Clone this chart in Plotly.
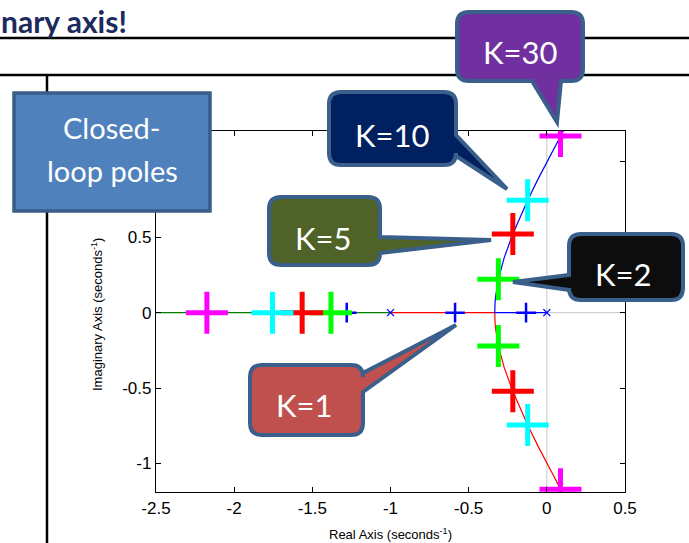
import plotly.graph_objects as go

# ---------------- data ----------------
gains = [1, 2, 5, 10, 30]
gain_colors = ["#0000FF", "#00FF00", "#FF0000", "#00FFFF", "#FF00FF"]
pole_re = [
    [-1.28, -0.587, -0.133],
    [-1.381, -0.310, -0.310],
    [-1.565, -0.2175, -0.2175],
    [-1.755, -0.1226, -0.1226],
    [-2.1745, 0.0873, 0.0873],
]
pole_im = [
    [0, 0, 0],
    [0, 0.221, -0.221],
    [0, 0.522, -0.522],
    [0, 0.745, -0.745],
    [0, 1.171, -1.171],
]
# open-loop poles
ol_re = [0, -1]
ol_im = [0, 0]

# root-locus branches
upper_re = [0, -0.333, -0.3315, -0.3275, -0.310, -0.273, -0.2175, -0.175, -0.1226, -0.0547, 0.0, 0.0465, 0.0873, 0.1239]
upper_im = [0, 0, 0.062, 0.108, 0.221, 0.363, 0.522, 0.627, 0.745, 0.889, 1.0, 1.092, 1.171, 1.242]
lower_re = [-1, -0.333, -0.3315, -0.3275, -0.310, -0.273, -0.2175, -0.175, -0.1226, -0.0547, 0.0, 0.0465, 0.0873, 0.1239]
lower_im = [0, 0, -0.062, -0.108, -0.221, -0.363, -0.522, -0.627, -0.745, -0.889, -1.0, -1.092, -1.171, -1.242]
left_re = [-1, -2.7]
left_im = [0, 0]

x_ticks = [-2.5, -2, -1.5, -1, -0.5, 0, 0.5]
x_tick_text = ["-2.5", "-2", "-1.5", "-1", "-0.5", "0", "0.5"]
y_ticks = [-1, -0.5, 0, 0.5, 1]
y_tick_text = ["-1", "-0.5", "0", "0.5", ""]  # the "1" label is hidden under the box

callout_labels = ["K=30", "K=10", "K=5", "K=2", "K=1"]
callout_fills = ["#7030A0", "#002060", "#4F6228", "#0D0D0D", "#C0504D"]

# ---------------- figure geometry (pixels) ----------------
W, H = 689, 543
L, R, T, B = 156, 625, 131, 492


def px(x):
    return (x - L) / (R - L)


def py(y):
    return (B - y) / (B - T)


fig = go.Figure()

fig.add_trace(go.Scatter(x=left_re, y=left_im, mode="lines",
                         line=dict(color="#008000", width=1.2), hoverinfo="skip"))
fig.add_trace(go.Scatter(x=lower_re, y=lower_im, mode="lines",
                         line=dict(color="#FF0000", width=1.2), hoverinfo="skip"))
fig.add_trace(go.Scatter(x=upper_re, y=upper_im, mode="lines",
                         line=dict(color="#0000FF", width=1.2), hoverinfo="skip"))
fig.add_trace(go.Scatter(x=ol_re, y=ol_im, mode="markers",
                         marker=dict(symbol="x-thin", size=7, color="#0000FF",
                                     line=dict(color="#0000FF", width=1.3))))

for i, k in enumerate(gains):
    big = k != 1
    fig.add_trace(go.Scatter(
        x=pole_re[i], y=pole_im[i], mode="markers",
        marker=dict(symbol="cross-thin", size=30 if big else 14,
                    color=gain_colors[i],
                    line=dict(color=gain_colors[i], width=5 if big else 2.5)),
        hoverinfo="skip"))

shapes = []
# light grey zero lines
shapes.append(dict(type="line", xref="x", yref="paper", x0=0, x1=0, y0=0, y1=1,
                   line=dict(color="#C8C8C8", width=1), layer="below"))
shapes.append(dict(type="line", xref="paper", yref="y", x0=0, x1=1, y0=0, y1=0,
                   line=dict(color="#C8C8C8", width=1), layer="below"))

# slide decoration lines
shapes.append(dict(type="line", xref="paper", yref="paper", x0=px(0), x1=px(W),
                   y0=py(38), y1=py(38), line=dict(color="black", width=2.5)))
shapes.append(dict(type="line", xref="paper", yref="paper", x0=px(0), x1=px(W),
                   y0=py(75), y1=py(75), line=dict(color="black", width=2.5)))
shapes.append(dict(type="line", xref="paper", yref="paper", x0=px(47), x1=px(47),
                   y0=py(75), y1=py(H + 5), line=dict(color="black", width=2.5)))


def P(x, y):
    return f"{px(x):.5f},{py(y):.5f}"


def callout(x0, y0, x1, y1, r, side, a, b, tip):
    tx, ty = tip
    s = [f"M {P(x0 + r, y0)}"]
    if side == "top":
        s += [f"L {P(a, y0)}", f"L {P(tx, ty)}", f"L {P(b, y0)}"]
    s += [f"L {P(x1 - r, y0)}", f"Q {P(x1, y0)} {P(x1, y0 + r)}"]
    if side == "right":
        s += [f"L {P(x1, a)}", f"L {P(tx, ty)}", f"L {P(x1, b)}"]
    s += [f"L {P(x1, y1 - r)}", f"Q {P(x1, y1)} {P(x1 - r, y1)}"]
    if side == "bottom":
        s += [f"L {P(a, y1)}", f"L {P(tx, ty)}", f"L {P(b, y1)}"]
    s += [f"L {P(x0 + r, y1)}", f"Q {P(x0, y1)} {P(x0, y1 - r)}"]
    if side == "left":
        s += [f"L {P(x0, a)}", f"L {P(tx, ty)}", f"L {P(x0, b)}"]
    s += [f"L {P(x0, y0 + r)}", f"Q {P(x0, y0)} {P(x0 + r, y0)}", "Z"]
    return " ".join(s)


border = "#3A5F8B"
geoms = [
    # box, side, base a, base b, tip, text centre
    ((457, 12, 583, 81), "bottom", 561, 532, (557, 122), (520, 50)),
    ((329, 92, 456, 165), "right", 135, 156, (507, 189), (392, 133)),
    ((269, 197, 380, 265), "right", 237, 253, (491, 240), (323, 236)),
    ((569, 234, 683, 300), "left", 290, 275, (513, 282), (623, 272)),
    ((250, 365, 363, 435), "right", 373, 392, (456, 325), (304, 403)),
]

# closed-loop poles box
shapes.append(dict(type="rect", xref="paper", yref="paper",
                   x0=px(14), x1=px(210), y0=py(93), y1=py(211),
                   fillcolor="#4F81BD", line=dict(color="#385D8A", width=3.5),
                   layer="above"))

annotations = []
for (box, side, a, b, tip, tc), lab, fill in zip(geoms, callout_labels, callout_fills):
    x0, y0, x1, y1 = box
    shapes.append(dict(type="path", xref="paper", yref="paper",
                       path=callout(x0, y0, x1, y1, 12, side, a, b, tip),
                       fillcolor=fill, line=dict(color=border, width=4),
                       layer="above"))
    annotations.append(dict(xref="paper", yref="paper", x=px(tc[0]), y=py(tc[1] + 2),
                            text=lab, showarrow=False, xanchor="center", yanchor="middle",
                            font=dict(family="Lato", size=31, color="white")))

annotations.append(dict(xref="paper", yref="paper", x=px(112), y=py(127),
                        text="Closed-", showarrow=False, xanchor="center", yanchor="middle",
                        font=dict(family="Lato", size=29, color="white")))
annotations.append(dict(xref="paper", yref="paper", x=px(112), y=py(170),
                        text="loop poles", showarrow=False, xanchor="center", yanchor="middle",
                        font=dict(family="Lato", size=29, color="white")))

annotations.append(dict(xref="paper", yref="paper", x=px(-1), y=py(21),
                        text="<b>nary axis!</b>", showarrow=False, xanchor="left",
                        yanchor="middle",
                        font=dict(family="Lato", size=30, color="#1C2A5E")))

annotations.append(dict(xref="paper", yref="paper", x=px(97), y=py(315),
                        text="Imaginary Axis (seconds<sup>-1</sup>)", showarrow=False,
                        textangle=-90, xanchor="center", yanchor="middle",
                        font=dict(family="Liberation Sans", size=13, color="black")))
annotations.append(dict(xref="paper", yref="paper", x=px(390), y=py(534),
                        text="Real Axis (seconds<sup>-1</sup>)", showarrow=False,
                        xanchor="center", yanchor="middle",
                        font=dict(family="Liberation Sans", size=13, color="black")))

fig.update_layout(
    width=W, height=H,
    margin=dict(l=L, r=W - R, t=T, b=H - B, autoexpand=False),
    paper_bgcolor="white", plot_bgcolor="white",
    showlegend=False,
    shapes=shapes,
    annotations=annotations,
    xaxis=dict(range=[-2.5, 0.5], tickvals=x_ticks, ticktext=x_tick_text,
               ticks="inside", ticklen=5, tickcolor="black", mirror="ticks",
               showline=True, linecolor="black", linewidth=1.3, showgrid=False,
               zeroline=False, automargin=False,
               tickfont=dict(family="Liberation Sans", size=17, color="black")),
    yaxis=dict(range=[-1.19, 1.205], tickvals=y_ticks, ticktext=y_tick_text,
               ticks="inside", ticklen=5, tickcolor="black", mirror="ticks",
               showline=True, linecolor="black", linewidth=1.3, showgrid=False,
               zeroline=False, automargin=False,
               tickfont=dict(family="Liberation Sans", size=17, color="black")),
)

fig.write_html("out.html", post_script="document.body.style.margin='0';",
               config={"displayModeBar": False})
